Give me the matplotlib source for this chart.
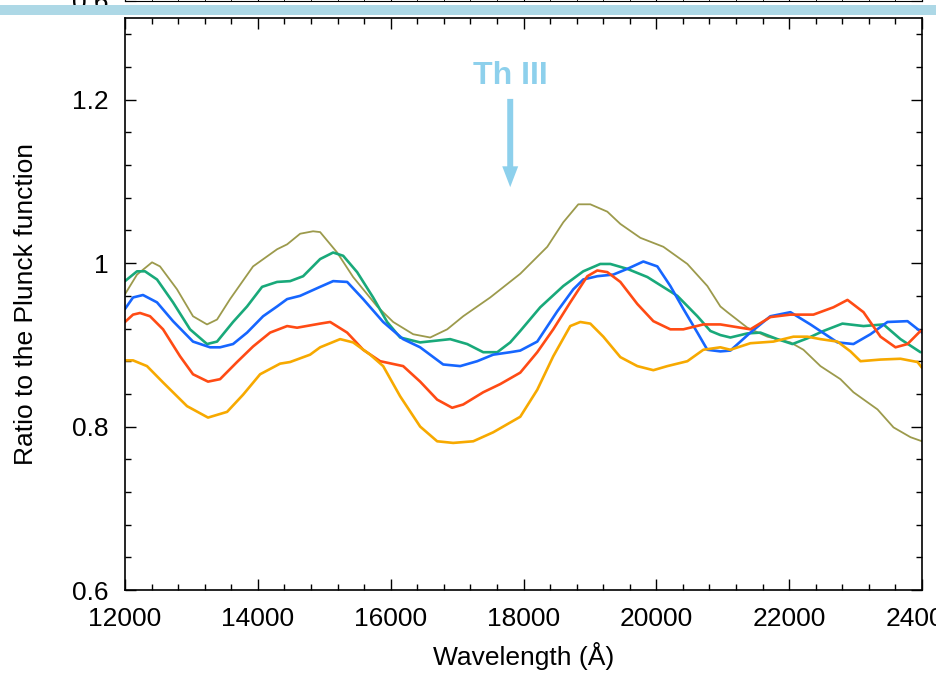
import matplotlib
matplotlib.use("Agg")
import matplotlib.pyplot as plt
from matplotlib.patches import Rectangle

plt.rcParams['font.family'] = ['Liberation Sans', 'DejaVu Sans']

# ---- data ----
olive_wl = [12000, 12181, 12407, 12527, 12783, 13024, 13235, 13386, 13582, 13928, 14290, 14441, 14637,
            14832, 14938, 15194, 15435, 15797, 16038, 16339, 16595, 16851, 17092, 17499, 17951, 18358,
            18599, 18825, 19006, 19262, 19458, 19759, 20106, 20467, 20768, 20964, 21070, 21371, 21672,
            22019, 22215, 22471, 22772, 22968, 23330, 23571, 23827, 24000]
olive_val = [0.962, 0.986, 1.001, 0.996, 0.968, 0.935, 0.925, 0.931, 0.956, 0.996, 1.017, 1.023, 1.036,
             1.039, 1.038, 1.013, 0.983, 0.947, 0.928, 0.913, 0.909, 0.919, 0.935, 0.958, 0.987, 1.020,
             1.050, 1.072, 1.072, 1.063, 1.048, 1.031, 1.020, 0.999, 0.972, 0.947, 0.940, 0.921, 0.910,
             0.903, 0.894, 0.874, 0.858, 0.842, 0.821, 0.799, 0.787, 0.782]

green_wl = [12000, 12181, 12301, 12482, 12723, 12979, 13235, 13386, 13627, 13838, 14064, 14290, 14486,
            14682, 14938, 15134, 15285, 15495, 15736, 15947, 16143, 16444, 16896, 17152, 17394, 17605,
            17800, 17951, 18252, 18599, 18900, 19156, 19307, 19563, 19865, 20316, 20618, 20814, 20964,
            21115, 21371, 21567, 21823, 22049, 22275, 22516, 22802, 23119, 23420, 23676, 23977]
green_val = [0.978, 0.990, 0.990, 0.980, 0.952, 0.919, 0.901, 0.904, 0.928, 0.947, 0.971, 0.977, 0.978,
             0.984, 1.005, 1.013, 1.009, 0.989, 0.958, 0.928, 0.909, 0.903, 0.907, 0.901, 0.891, 0.891,
             0.903, 0.917, 0.946, 0.972, 0.990, 0.999, 0.999, 0.993, 0.983, 0.960, 0.935, 0.917, 0.912,
             0.909, 0.914, 0.915, 0.907, 0.901, 0.908, 0.917, 0.926, 0.923, 0.925, 0.907, 0.891]

blue_wl = [12000, 12121, 12271, 12482, 12723, 13024, 13281, 13431, 13627, 13838, 14079, 14290, 14441,
           14637, 14938, 15134, 15345, 15586, 15887, 16188, 16444, 16791, 17047, 17303, 17544, 17800,
           17951, 18207, 18508, 18750, 18900, 19111, 19352, 19563, 19804, 20015, 20211, 20407, 20618,
           20768, 20964, 21115, 21416, 21717, 22019, 22320, 22727, 22968, 23224, 23480, 23782, 24000]
blue_val = [0.944, 0.958, 0.961, 0.952, 0.929, 0.904, 0.897, 0.897, 0.901, 0.915, 0.935, 0.947, 0.956,
            0.960, 0.971, 0.978, 0.977, 0.956, 0.928, 0.907, 0.897, 0.876, 0.874, 0.880, 0.888, 0.891,
            0.893, 0.904, 0.941, 0.968, 0.980, 0.984, 0.986, 0.993, 1.002, 0.996, 0.972, 0.944, 0.915,
            0.894, 0.892, 0.893, 0.915, 0.935, 0.940, 0.925, 0.903, 0.901, 0.913, 0.928, 0.929, 0.915]

red_wl = [12000, 12121, 12226, 12377, 12573, 12829, 13024, 13250, 13431, 13687, 13928, 14185, 14441,
          14591, 14938, 15089, 15345, 15586, 15842, 16188, 16444, 16700, 16926, 17092, 17394, 17650,
          17951, 18207, 18448, 18704, 18961, 19111, 19262, 19458, 19714, 19955, 20211, 20407, 20708,
          20964, 21416, 21717, 22019, 22365, 22667, 22878, 23119, 23375, 23601, 23782, 23977]
red_val = [0.928, 0.937, 0.939, 0.935, 0.919, 0.886, 0.864, 0.855, 0.858, 0.879, 0.898, 0.915, 0.923,
           0.921, 0.926, 0.928, 0.915, 0.894, 0.880, 0.874, 0.855, 0.833, 0.823, 0.827, 0.842, 0.852,
           0.866, 0.891, 0.919, 0.952, 0.984, 0.991, 0.989, 0.977, 0.950, 0.929, 0.919, 0.919, 0.925,
           0.925, 0.919, 0.934, 0.937, 0.937, 0.946, 0.955, 0.940, 0.910, 0.897, 0.901, 0.917]

orange_wl = [12000, 12121, 12331, 12573, 12934, 13250, 13537, 13778, 14034, 14335, 14486, 14787, 14938,
             15239, 15435, 15691, 15887, 16143, 16444, 16700, 16941, 17243, 17544, 17951, 18207, 18448,
             18704, 18855, 19006, 19202, 19458, 19714, 19955, 20166, 20467, 20708, 20964, 21115, 21416,
             21763, 22064, 22275, 22471, 22727, 22923, 23074, 23375, 23676, 23932, 24000]
orange_val = [0.881, 0.881, 0.874, 0.854, 0.825, 0.811, 0.818, 0.839, 0.864, 0.877, 0.879, 0.888, 0.897,
              0.907, 0.903, 0.888, 0.874, 0.837, 0.800, 0.782, 0.780, 0.782, 0.793, 0.812, 0.845, 0.886,
              0.923, 0.928, 0.926, 0.910, 0.885, 0.874, 0.869, 0.874, 0.880, 0.894, 0.897, 0.894, 0.902,
              0.904, 0.910, 0.910, 0.907, 0.904, 0.892, 0.880, 0.882, 0.883, 0.879, 0.872]

x_ticks = [12000, 14000, 16000, 18000, 20000, 22000, 24000]
y_ticks = [0.6, 0.8, 1.0, 1.2]
y_tick_labels = ['0.6', '0.8', '1', '1.2']

annot_label = 'Th III'
annot_wl = 17800

# ---- figure ----
W, H = 936, 676
fig = plt.figure(figsize=(W / 100, H / 100), dpi=100)

def frac(x0, y0, x1, y1):
    return [x0 / W, 1 - y1 / H, (x1 - x0) / W, (y1 - y0) / H]

ax = fig.add_axes(frac(125, 18, 922, 590))

lw = 1.9
kw = dict(solid_joinstyle='round', solid_capstyle='round')
ax.plot(olive_wl, olive_val, color='#9c9a4c', lw=1.3, **kw)
ax.plot(green_wl, green_val, color='#19a97a', lw=lw, **kw)
ax.plot(blue_wl, blue_val, color='#1666ff', lw=lw, **kw)
ax.plot(red_wl, red_val, color='#ff4b14', lw=lw, **kw)
ax.plot(orange_wl, orange_val, color='#f7a900', lw=lw, **kw)

ax.set_xlim(12000, 24000)
ax.set_ylim(0.6, 1.3)
ax.set_xticks(x_ticks)
ax.set_yticks(y_ticks)
ax.set_yticklabels(y_tick_labels)
ax.set_xticks([12000 + 400 * i for i in range(31)], minor=True)
ax.set_yticks([0.6 + 0.04 * i for i in range(18)], minor=True)
ax.tick_params(which='both', direction='in', top=True, right=True, labelsize=19, width=1.0)
ax.tick_params(which='major', length=8)
ax.tick_params(which='minor', length=4)
ax.tick_params(axis='x', pad=12)
ax.tick_params(axis='y', pad=12)
for s in ax.spines.values():
    s.set_linewidth(1.2)

ax.set_xlabel('Wavelength (Å)', fontsize=19, labelpad=8)
ax.set_ylabel('Ratio to the Plunck function', fontsize=19, labelpad=24)

ax.annotate('', xy=(annot_wl, 1.093), xytext=(annot_wl, 1.201),
            arrowprops=dict(width=4.3, headwidth=11.5, headlength=15, shrink=0,
                            facecolor='#8dd0ec', edgecolor='none', lw=0))
ax.text(annot_wl, 1.229, annot_label, color='#8dd0ec', fontsize=23, fontweight='bold',
        ha='center', va='center')

# upper panel (cut off at the top of the slide)
ax_top = fig.add_axes(frac(125, -200, 922, 1))
ax_top.set_xlim(12000, 24000)
ax_top.set_ylim(0.6, 1.3)
ax_top.set_yticks([0.6])
ax_top.set_xticks(x_ticks)
ax_top.set_xticklabels([])
ax_top.set_xticks([12000 + 400 * i for i in range(31)], minor=True)
ax_top.tick_params(which='both', direction='in', top=True, right=True, labelsize=19, pad=12)
ax_top.tick_params(which='major', length=8)
ax_top.tick_params(which='minor', length=4)

# light-blue separator band
fig.add_artist(Rectangle((0, 1 - 15 / H), 1, 10 / H, transform=fig.transFigure,
                         facecolor='#add8e6', edgecolor='none', zorder=10))

fig.savefig('out.png', dpi=100)
